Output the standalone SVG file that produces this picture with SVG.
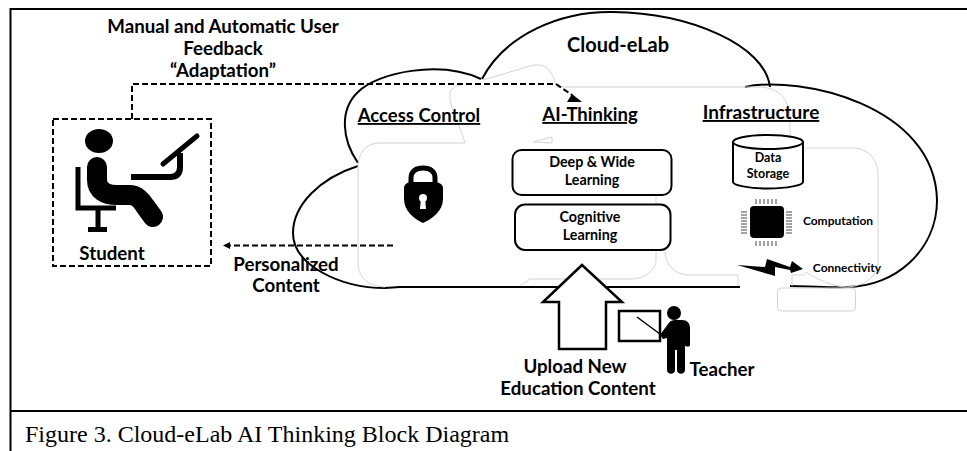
<svg xmlns="http://www.w3.org/2000/svg" width="967" height="451" viewBox="0 0 967 451">
<style>
text{font-family:"Lato","Carlito","Liberation Sans",sans-serif;font-weight:700;fill:#000;text-anchor:middle}
.ol{fill:none;stroke:#000;stroke-width:2}
.faint{fill:none;stroke:#d4d4d4;stroke-width:1}
.dash{fill:none;stroke:#000;stroke-width:2;stroke-dasharray:6 3}
.box{fill:#fff;stroke:#000;stroke-width:2}
.h{font-size:18.5px;text-decoration:underline}
.m{font-size:18.7px}
.s{font-size:14.300px}
.xs{font-size:12.500px}
.xxs{font-size:12px}
.pin{stroke:#333;stroke-width:.9}
</style>
<defs>
<marker id="tip" markerWidth="8" markerHeight="8" refX="6" refY="3.500" orient="auto" markerUnits="userSpaceOnUse"><path d="M0 0L7 3.500L0 7Z" fill="#000"/></marker>
</defs>
<rect width="967" height="451" fill="#fff"/>
<g id="frame" fill="none" stroke="#000" stroke-width="2">
<path d="M967 9H10.500V451"/>
<path d="M10 411H967"/>
</g>
<g id="cloud">
<path class="ol" d="M358 163C342 140 339 110 358 92C378 72 440 60 481 79"/>
<path class="ol" d="M482 79C505 35 560 11 613 12C690 13 765 45 770 87"/>
<path class="ol" d="M745 87C800 75 935 105 937 200C937 250 895 287 847 287C825 288 805 286 790 286"/>
<path class="ol" d="M358 166C320 178 293 205 293 233C293 265 340 288 385 288L400 287H740"/>
<g class="faint">
<path d="M358 163C360 150 368 143 380 143H465C460 125 448 105 450 92C452 87 458 85 462 85"/>
<path d="M358 163V262C358 278 368 286 385 287"/>
<path d="M533 142L552 137V143Z"/>
<path d="M483 80L530 66C545 62 552 70 556 85"/>
<path d="M556 87H760C780 88 790 100 790 120V135"/>
<path d="M805 148H855C870 150 878 160 878 175V265C875 280 860 287 845 287C825 285 812 275 805 272"/>
<path d="M792 275V286M792 275H805"/>
<path d="M738 286V275H690C672 275 665 262 665 250"/>
<path d="M656 196V260C656 270 645 279 630 279H530L520 286"/>
<rect x="777.500" y="288" width="78" height="23" rx="4"/>
</g>
</g>
<g id="connectors">
<path class="dash" d="M132 119V84H556L572 95"/>
<path d="M567 102H582L572 94Z" fill="#000"/>
<path class="dash" d="M393 245.500H224" marker-end="url(#tip)"/>
</g>
<g id="feedback-label">
<text class="m" x="223" y="33">Manual and Automatic User</text>
<text class="m" x="223" y="55">Feedback</text>
<text class="m" x="223" y="77">“Adaptation”</text>
</g>
<g id="student">
<rect x="53" y="119" width="158" height="147" fill="none" stroke="#000" stroke-width="2" stroke-dasharray="6 3"/>
<ellipse cx="99" cy="141" rx="14" ry="12" fill="#000"/>
<path d="M97 167V180C97 190 105 195 117 195H129C137 195 141 200 145 206L153 217" fill="none" stroke="#000" stroke-width="20" stroke-linecap="round" stroke-linejoin="round"/>
<path d="M78 167V208H116M98 208V229M88 229.500H107" fill="none" stroke="#000" stroke-width="5"/>
<path d="M131 177H170C178 177 180 172 180 167V153" fill="none" stroke="#000" stroke-width="6"/>
<path d="M163 164L197 136" fill="none" stroke="#000" stroke-width="5" stroke-linecap="round"/>
<text class="m" x="112" y="260">Student</text>
</g>
<g id="personalized-label">
<text class="m" x="286" y="271">Personalized</text>
<text class="m" x="286" y="292">Content</text>
</g>
<g id="cloud-title"><text x="618" y="52" style="font-size:20px">Cloud-eLab</text></g>
<g id="access-control">
<text class="h" x="419" y="122">Access Control</text>
<path d="M411 184V178C411 171 416 168 423 168C430 168 435 171 435 178V184" fill="none" stroke="#000" stroke-width="5"/>
<path d="M404 188C404 184 408 182 412 182H434C438 182 443 184 443 188V199C443 211 432 219 423 223C414 219 404 211 404 199Z" fill="#000"/>
<circle cx="423" cy="198" r="4" fill="#fff"/>
<path d="M421 198H425L426 209H420Z" fill="#fff"/>
</g>
<g id="ai-thinking">
<text class="h" x="590" y="121">AI-Thinking</text>
</g>
<g id="deep-wide">
<rect class="box" x="512.500" y="150" width="159" height="45" rx="9"/>
<text class="s" x="592" y="167">Deep &amp; Wide</text>
<text class="s" x="592" y="185">Learning</text>
</g>
<g id="cognitive">
<rect class="box" x="515" y="204.500" width="155.500" height="45.500" rx="10"/>
<text class="s" x="590" y="222">Cognitive</text>
<text class="s" x="590" y="240">Learning</text>
</g>
<g id="infrastructure">
<text class="h" x="761" y="119" style="font-size:19px">Infrastructure</text>
</g>
<g id="data-storage">
<path class="box" d="M733 142V182C733 185 748 188.500 768 188.500C788 188.500 803 185 803 182V142"/>
<ellipse class="box" cx="768" cy="142" rx="35" ry="7"/>
<text class="xs" x="768" y="162">Data</text>
<text class="xs" x="768" y="178">Storage</text>
</g>
<g id="computation">
<rect x="750" y="206" width="34" height="32" rx="4" fill="#000"/>
<g class="pin">
<path d="M756 199V204M760 199V204M764 199V204M768 199V204M772 199V204M776 199V204"/>
<path d="M756 241V246M760 241V246M764 241V246M768 241V246M772 241V246M776 241V246"/>
<path d="M741 212H747M741 215H747M741 218H747M741 221H747M741 224H747M741 227H747M741 230H747M741 233H747"/>
<path d="M786 212H792M786 215H792M786 218H792M786 221H792M786 224H792M786 227H792M786 230H792M786 233H792"/>
</g>
<text class="xxs" x="838" y="225">Computation</text>
</g>
<g id="connectivity">
<path d="M737 265L765 267L767 259L790 267L792 261L803 269L791 273L790 270L775 267L775 276Z" fill="#000"/>
<text class="xxs" x="847" y="272">Connectivity</text>
</g>
<g id="upload">
<path d="M582 265L543 302H559V349H606V302H622Z" fill="#fff" stroke="#000" stroke-width="2.500"/>
<text class="m" x="575" y="373">Upload New</text>
<text class="m" x="578" y="395">Education Content</text>
</g>
<g id="teacher">
<rect x="619" y="311" width="41" height="30" fill="#fff" stroke="#000" stroke-width="2.500"/>
<path d="M637 317L664 337" stroke="#000" stroke-width="1.500" fill="none"/>
<circle cx="674" cy="313" r="7" fill="#000"/>
<path d="M660 335L668 324C670 321 672 320 675 320H682C687 320 690 323 690 328V345C690 347 685 347 685 345V335V370C685 375 677 375 677 370V350H675V370C675 375 667 375 667 370V338L663 339Z" fill="#000"/>
<text class="m" x="722" y="376">Teacher</text>
</g>
<g id="caption"><text x="25" y="441.500" style="font-family:'Liberation Serif',serif;font-weight:400;font-size:24px;text-anchor:start">Figure 3. Cloud-eLab AI Thinking Block Diagram</text></g>
</svg>
